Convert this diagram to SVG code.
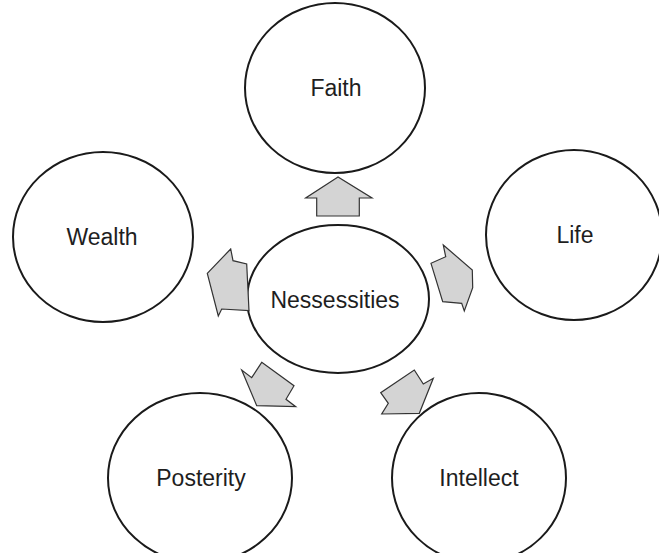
<svg xmlns="http://www.w3.org/2000/svg" width="659" height="553" viewBox="0 0 659 553">
<style>
.node ellipse{fill:#fff;stroke:#1a1a1a;stroke-width:2}
.node text{font-family:"Liberation Sans",Arial,sans-serif;font-size:23px;fill:#1e1e1e;text-anchor:middle}
.arr polygon{fill:#d4d4d4;stroke:#333;stroke-width:1.2;stroke-linejoin:miter}
</style>
<rect width="659" height="553" fill="#fff"/>
<g id="faith" class="node"><ellipse cx="335" cy="88" rx="90" ry="85"/><text x="336" y="96">Faith</text></g>
<g id="wealth" class="node"><ellipse cx="103" cy="237" rx="90" ry="85"/><text x="102" y="245">Wealth</text></g>
<g id="life" class="node"><ellipse cx="574" cy="235" rx="88" ry="85"/><text x="575" y="243">Life</text></g>
<g id="nessessities" class="node"><ellipse cx="338" cy="299" rx="91" ry="74"/><text x="335" y="308">Nessessities</text></g>
<g id="posterity" class="node"><ellipse cx="200" cy="478" rx="92" ry="85"/><text x="201" y="486">Posterity</text></g>
<g id="intellect" class="node"><ellipse cx="479" cy="478" rx="87" ry="85"/><text x="479" y="486">Intellect</text></g>
<g id="connectors" class="arr">
<polygon points="338,177 305.7,198 316.7,198 316.7,216 359.3,216 359.3,198 372,198"/>
<polygon points="230.7,249 207.3,273.3 218.3,316 221.7,309 249,310.7 246.7,264 233,260.7"/>
<polygon points="443.3,245 472.3,270 472.7,287.7 464.3,311 461.7,303.3 442.7,301.7 431,263.3 445.7,256.7"/>
<polygon points="261.7,362.3 294,385.7 286,399.3 295.7,406.7 256.7,405.7 241.7,370 251.7,377.7"/>
<polygon points="414.3,370 423.3,384 433.3,378.3 419.3,413.3 381.7,414 388.3,403.3 380.7,392.7"/>
</g>
</svg>
